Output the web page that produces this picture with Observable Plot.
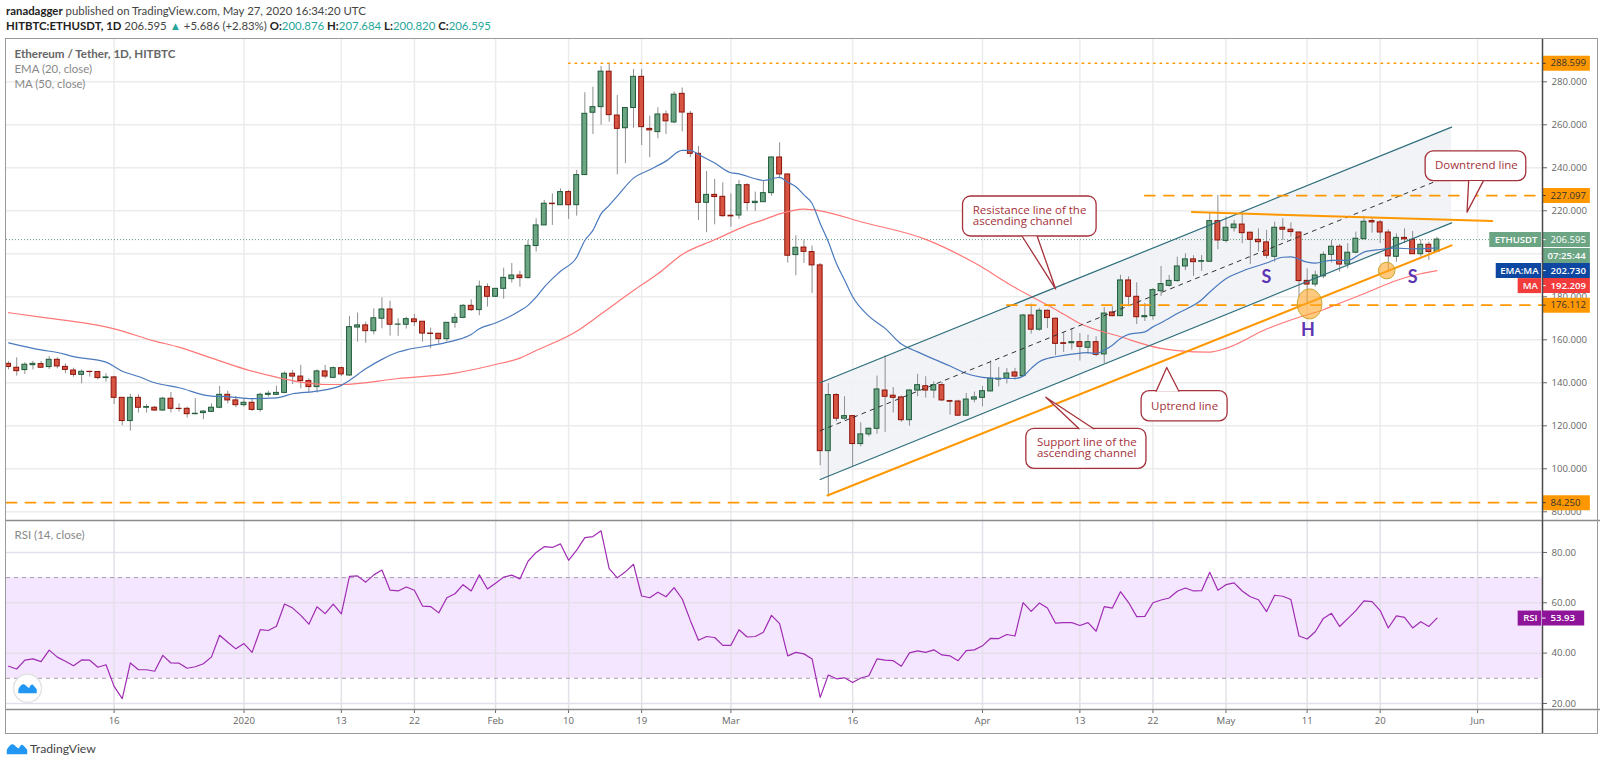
<!DOCTYPE html>
<html>
<head>
<meta charset="utf-8">
<script src="https://cdn.jsdelivr.net/npm/d3@7"></script>
<script src="https://cdn.jsdelivr.net/npm/@observablehq/plot@0.6"></script>
<style>
html,body{margin:0;padding:0;background:#fff;overflow:hidden}
body{font-family:"Lato",sans-serif;width:1600px;height:763px;position:relative}
#head{height:39px;box-sizing:border-box;padding:3px 0 0 6px;font-size:11.4px;line-height:15px;color:#444;white-space:nowrap}
#head b{color:#222;font-weight:700}
#head i{font-style:normal;color:#26a69a}
#plots svg{display:block}
#frame{position:absolute;left:5px;top:38px;width:1591px;height:694px;border:1.5px solid #9a9a9a;pointer-events:none}
#foot{height:30px;box-sizing:border-box;padding:8px 0 0 30px;font-size:12.2px;color:#444;position:relative}
#foot svg{position:absolute;left:5px;top:7px}
</style>
</head>
<body>
<div id="head">
<div><b>ranadagger</b> published on TradingView.com, May 27, 2020 16:34:20 UTC</div>
<div><b>HITBTC:ETHUSDT, 1D</b> 206.595 <i>&#9650;</i> +5.686 (+2.83%) <b>O:</b><i>200.876</i> <b>H:</b><i>207.684</i> <b>L:</b><i>200.820</i> <b>C:</b><i>206.595</i></div>
</div>
<div id="plots"></div>
<div id="frame"></div>
<div id="foot"><svg width="24" height="16" viewBox="-1.2 -1 2.4 1.8"><path fill="#2196f3" d="M-1.15.6L-1.15.1Q-.7-.75-.3-.45Q0-.1.2-.05Q.5-.75.8-.3L1.15.1L1.15.6Z"/></svg>TradingView</div>
<script>
// Daily candles from 3 Dec 2019 (bar 0) to 27 May 2020 (bar 176)
const open = [148.8,147,145.9,148.2,148.7,147.3,150.7,147.4,145.7,143.7,
145.1,145,142.2,142.5,133,122.2,133,128.4,128.4,127.1,
132.6,127.9,127.9,125.4,125.9,126.5,128.4,134.4,131.8,129.6,
130.7,127.4,134.4,134.4,135.3,144.2,142.9,140.8,138,145.3,
142.3,146.8,143.4,165.7,166.7,164,169.8,174.1,167,167,
169.5,168.4,162.9,162.8,160.3,167.9,170.2,175.8,173.8,184.5,
180,183.7,188.2,189.9,188.7,203.6,213.2,223.3,222.6,228.7,
222.6,236.6,265.6,268.2,284.7,264.3,258.4,267.8,282.3,258.1,
256.6,264.8,261.1,274.4,265.1,246.5,223.7,227.4,226.5,217.7,
217.8,231.9,223.6,224,228.2,244.8,236.9,199.4,202.9,200.8,
194.6,108.2,134.3,123.3,124.5,111.5,116,118.6,136.4,134,
133.2,122.6,136.4,138.4,136.4,138.9,131.5,131.3,124.7,132.2,
133,136,141.5,141.9,144.8,143.1,171.3,164.7,173.5,169.8,
158.4,158.4,158.9,156.3,158.9,153.2,172.7,171,187.6,180,
170.5,171,182.6,185.1,187.3,194.1,197.4,196.3,196.3,215.2,
206,211.9,213.6,209.8,206.5,205.3,198.6,212.1,211.2,209.9,
187.4,185.7,189.5,199.5,203.3,195,200.5,206.8,215.2,214.6,
209.9,198.6,207.4,206.5,199.8,204.2,200.876];
const high = [149.8,151.6,149.3,149.9,149.9,152.2,151.6,148.8,146.8,146,
145.3,145.3,144.2,143,133,134.6,134.4,129.8,129,133.3,
135.5,130.2,128.7,132.6,127.1,130.2,138.3,136.1,133.6,132.6,
132.6,135.2,136.1,138.4,145,145.7,148.1,141.9,146,148.1,
147.3,147.3,170.9,172.4,168.2,174.4,179.5,178,169.8,170.5,
171.8,168.4,165.4,162.8,167.9,172.1,176.4,178.6,187.3,186,
183.7,193.3,195.5,191.9,206.2,216.3,224.8,227.9,230.2,229.5,
238.8,274.9,277.5,287.1,288.6,273.6,267.8,285.7,285.7,264,
267.9,266.4,275.3,277.1,266.2,249.9,238.3,234.6,233,227.9,
234.1,232.6,228.7,234.1,245,251.6,236.9,208.4,206.4,203.6,
195.5,139.7,135,133.5,124.5,121.4,119.1,143.1,152.6,137.8,
133.8,136.9,143.9,142.8,140.5,140.2,131.9,131.9,135,135.7,
138.4,150.1,147.1,146.7,146.7,171.8,176.6,174.6,173.8,170.1,
163.3,165,162.9,162.2,161.4,175,175.3,190,189.3,186.5,
176.9,183.9,194.1,189.9,198.4,200,199.1,199.2,218.9,227.1,
217.1,215.5,218.9,210.1,211.6,210.9,214.7,216.3,214.4,210.1,
193,191.9,200.8,206.2,204.3,204.7,210.1,217.4,216.3,215.5,
211.2,209.3,211.6,210.4,206.5,205.4,207.684];
const low = [146,143.1,143.9,146,146.8,146.2,146.5,144.2,142.6,139.5,
142.6,141.4,140.3,129.9,120,117.5,125.9,125.9,126.7,126.7,
126,126.4,123.6,125.1,122.8,126.2,127.9,130.2,128.4,128.7,
126.7,126.4,133.3,134.1,134.9,139.2,137.2,135.2,135.2,141.9,
141.9,142.9,142.9,158.9,158.4,162.3,165.1,161.7,161.6,165,
166.2,158.9,155.8,158.1,159.2,165.4,169.8,173.2,171.2,175.2,
179.8,178.9,186.4,184.5,188.2,200.8,213.2,213.2,222.6,216,
217.5,236.6,255.5,259.8,261.2,236.7,241.9,258.4,250.4,244.7,
253.5,255.5,260.5,256.7,244.7,215.5,209.8,213.5,217,212.4,
216,219.8,219.7,226.8,226.8,234.9,195.7,189.8,195.5,181.6,
101.4,87,121.9,122.6,100.9,110.2,114.9,116.1,116.9,126,
121.6,119.8,133.5,132.9,132.7,131.2,125,124.5,124.5,130.7,
128.8,135.7,138.1,139.4,141.2,142.8,162.6,164,165.3,152.6,
154.1,155.2,150.1,153.3,152.1,149,170.7,170.7,176.1,167.1,
168.5,169.1,180.2,184.5,186.8,192.2,189.5,191.8,196,201.9,
205,210.1,204.7,195,200.8,197.7,196.1,206.2,207.8,180,
176.7,184.5,188.4,195.8,191.5,193,200,206.5,209.6,204.7,
191.5,196.1,204.7,199.7,198.4,196.9,200.82];
const close = [147.4,145.4,148.4,148.8,147,150.7,147.6,146,143.7,145.1,
145,142.2,142.5,133,122.2,133,128.4,128.7,127.1,132.6,
127.9,127.8,125.4,125.6,126.6,128.4,134.4,131.8,129.6,130.7,
127.4,134.4,134.9,135.3,144.2,142.9,140.8,138,145.3,142.9,
146.8,143.9,165.9,166.7,164,170,174.1,167,167.1,169.6,
168.2,162.9,162.7,160.3,167.9,170.2,175.8,173.8,184.7,180,
183.7,188.8,189.9,188.7,203.7,213.2,223.3,223.1,228.7,222.6,
236.6,265.1,268.2,284.7,264.5,258.1,267.8,282.3,258.9,257.4,
264.8,261.6,274,265.7,246.5,223.7,227.4,226.4,217.5,217.4,
231.9,223.6,224.2,228.2,244.8,236.9,199.1,202.8,200.9,194.6,
108.2,134.3,123.3,124.5,111.5,116,118.6,136.9,133.5,133,
122.6,136.4,138.9,136.4,138.9,131.8,131.2,124.7,132.2,133.2,
136.1,141.9,141.9,144.3,142.9,171.3,164.7,173.5,170.1,158.1,
158.1,158.9,156.7,158.9,153,172.2,171,187.6,180,170.5,
171,183.1,185.9,187.4,194.1,197.4,196.1,196.6,215.2,206.2,
212.1,213.6,209.6,206.5,205.4,199.1,212.1,211.2,210.1,187.3,
185.7,189.9,199.5,203.3,195,200.5,207,214.9,214.6,209.9,
198.8,207.4,206.7,199.8,204.2,200.8,206.595];
const rsi = [34.8,33.7,37.2,37.7,36.6,41.2,38.4,36.8,35,37.3,
37.2,34.4,35.4,26.8,21.9,36.1,33.4,33.4,32.8,39.1,
36.1,36,34,34.6,35.8,38.5,47.1,44.3,41.7,43.8,
40.3,49.3,49,50.7,59.5,57.9,55,51.5,58.4,55.7,
59.5,55.6,70.5,70.7,68.2,71.1,73,65,64.7,66.3,
65,58.7,58.5,56,62,63.6,67.2,64.7,71.1,65.5,
67.8,70.2,71,69.5,76.5,80,82.3,82,83.4,76.9,
80.9,85.9,86.3,88.6,73.6,69.9,72.3,75.3,62.7,62,
64.2,62.4,66,61.5,53,45.1,46.6,46.2,43.1,43.1,
49.3,46.4,46.6,48.3,55,51.7,38.9,40.3,39.7,37.7,
22.4,31.3,29.8,30.2,28.3,30.1,31,37.7,37.2,37,
34.8,40.1,40.9,40.3,41.3,39.3,38.9,37,41,41.3,
42.9,45.9,45.8,47.4,46.8,60.1,56.6,59.9,57.9,51.9,
52.1,52.1,51,52.1,48.7,58.5,57.9,64.4,60.1,54.5,
54.6,60,61.1,61.9,64.6,65.9,64.7,64.8,72.1,65,
67.2,67.9,64.7,62.4,61.2,56.5,63,62.6,61.3,46.8,
45.6,48.5,53.8,55.8,50.6,53.7,56.9,60.8,60.5,56.9,
50,54.8,54.2,50,52.5,50.6,53.93];
const emaBars = [0,4,6,8,12,14,16,18,21,25,27,30,33,35,38,41,42,44,46,48,49,53,55,57,58,60,63,64,65,66,68,70,71,72,73,74,75,77,79,81,83,84,85,87,89,90,92,93,95,96,97,98,99,100,101,102,103,104,106,108,110,112,114,116,118,120,122,124,125,126,127,128,129,131,133,134,135,136,137,138,140,141,142,144,147,148,150,152,155,157,158,160,161,163,165,167,169,171,173,176];
const emaVals = [158.6,155.3,154.1,152.2,149.6,145.4,142.9,140,137.7,133.8,133.6,132.6,133,134.9,136.1,138.8,141.1,146.5,150.9,154.3,155.3,158,159.7,162.5,165.1,167.8,173.5,176,179.8,184.5,191.9,198.4,206.2,210.9,218.6,222.5,226.8,235.2,239.1,243.1,248.1,248.1,246.2,242.2,237.7,237.2,234.9,234.1,235.5,233.3,231.2,227.4,223.4,214.1,205.6,195.5,187.8,180,171,165.3,158,154.4,151,147.8,144.3,142.5,142,142,143.1,146.7,149.8,151.3,152.1,153.3,154,153.6,155.2,157.5,160.6,162.5,163.7,166,167.9,172.2,178.6,182.2,188.4,191.9,195.7,198.4,198.6,196.1,195.7,196.9,196.9,200.8,202,202.6,202.3,202.73];
const maBars = [0,4,10,13,18,21,25,29,33,36,39,41,48,55,60,63,65,70,73,77,80,83,87,91,93,95,98,100,105,113,119,124,129,132,137,142,144,148,150,155,159,162,164,167,171,174,176];
const maVals = [172.6,170.5,167.4,165.1,159.4,156.6,151.5,146.5,142.6,140.3,139.2,139.2,142,144.5,148.5,151.5,155,164,172,182.9,190.7,199.7,206.5,213.2,215.8,218.6,220.8,220,214.9,206.7,195.8,184.3,174.1,167.6,161.4,156,155,154.3,156,165,170.5,174,177,181.4,187.6,190.7,192.209];

const priceTicks = [80,100,120,140,160,180,200,220,240,260,280];
const rsiTicks = [20,40,60,80];
const timeTickDates = ["2019-12-16","2020-01-01","2020-01-13","2020-01-22","2020-02-01","2020-02-10","2020-02-19","2020-03-01","2020-03-16","2020-04-01","2020-04-13","2020-04-22","2020-05-01","2020-05-11","2020-05-20","2020-06-01"];
const timeTickLabels = ["16","2020","13","22","Feb","10","19","Mar","16","Apr","13","22","May","11","20","Jun"];

// Horizontal level lines: starting bar, price
const levelBars = [69,140,123,-0.26];
const levelVals = [288.599,227.097,176.112,84.25];

// Ascending channel ends, trend lines (bar, price)
const channelBars = [100,177.8];
const channelTop = [140,258.9];
const channelMid = [117.7,236.7];
const channelBot = [95,214.4];
const upBars = [100.9,177.8];
const upVals = [87.6,203.9];
const downBars = [145.8,182.8];
const downVals = [219.4,215.2];

// Callouts
const callouts = [
 {lines:["Resistance line of the","ascending channel"],anchor:"start",tx:118.8,ty:[220.1,215.3],b0:117.6,b1:134.06,p0:208.05,p1:226.65,tail:[[124.9,208.05],[129,183.7],[126.75,208.05]]},
 {lines:["Support line of the","ascending channel"],anchor:"start",tx:126.7,ty:[112.1,107],b0:125.4,b1:140.2,p0:100,p1:118.6,tail:[[131.9,118.6],[127.8,133.3],[133.7,118.6]]},
 {lines:["Uptrend line"],anchor:"middle",tx:144.9,ty:[129.1],b0:139.6,b1:150.2,p0:122.1,p1:136.1,tail:[[141.4,136.1],[142.7,147.1],[144.2,136.1]]},
 {lines:["Downtrend line"],anchor:"middle",tx:180.85,ty:[241.1],b0:174.6,b1:187,p0:233.8,p1:247.6,tail:[[179.9,233.8],[179.7,219.4],[181.7,233.8]]}
];
const letters = [{t:"S",b:155,p:189.1},{t:"H",b:160.1,p:164.3},{t:"S",b:173,p:189.1}];

// Axis tags
const tagLevels = [288.599,227.097,206.595,176.112,84.25];
const tagFills = ["#ff9800","#ff9800","#6ba583","#ff9800","#ff9800"];
const tagInk = ["#333","#333","#fff","#333","#333"];
const sideTags = [
 {name:"ETHUSDT",left:182.5,val:"206.595",level:206.595,fill:"#6ba583"},
 {name:"EMA:MA",left:183.3,val:"202.730",level:192.2,fill:"#0d47a1"},
 {name:"MA",left:186,val:"192.209",level:185.2,fill:"#f23b3b"}
];

const DAY = 864e5, T0 = Date.UTC(2019,11,3);
const at = i => new Date(T0 + i*DAY);
const AXIS = 189, TAGEND = 194.9, START = -0.26;
const xDomain = [at(START), at(AXIS)];
const bars = close.map((c,i)=>({i,o:open[i],h:high[i],l:low[i],c,up:c>=open[i]}));
const font = '"Lato",sans-serif';
const axisFont = '"Open Sans",sans-serif';
const gridColor = "#ececec";
const labelMap = new Map(timeTickDates.map((d,i)=>[+new Date(d+"T00:00Z"),timeTickLabels[i]]));
const timeTicks = timeTickDates.map(d=>new Date(d+"T00:00Z"));

const ellipse = ratio => ({draw(ctx,size){
  const ry=Math.sqrt(size/Math.PI), rx=ry*ratio, k=0.5523;
  ctx.moveTo(-rx,0);
  ctx.bezierCurveTo(-rx,-ry*k,-rx*k,-ry,0,-ry);
  ctx.bezierCurveTo(rx*k,-ry,rx,-ry*k,rx,0);
  ctx.bezierCurveTo(rx,ry*k,rx*k,ry,0,ry);
  ctx.bezierCurveTo(-rx*k,ry,-rx,ry*k,-rx,0);
  ctx.closePath();
}});
const cloud = {draw(ctx,size){
  const s=Math.sqrt(size/Math.PI);
  ctx.moveTo(-1.15*s,.6*s);ctx.lineTo(-1.15*s,.1*s);
  ctx.quadraticCurveTo(-.7*s,-.75*s,-.3*s,-.45*s);
  ctx.quadraticCurveTo(0,-.1*s,.2*s,-.05*s);
  ctx.quadraticCurveTo(.5*s,-.75*s,.8*s,-.3*s);
  ctx.lineTo(1.15*s,.1*s);ctx.lineTo(1.15*s,.6*s);ctx.closePath();
}};

const red = "#a5313a";
const lineOf = (b,v,k="k") => b.map((x,i)=>({i:x,p:v[i],k}));
const channelArea = channelBars.map((b,i)=>({i:b,top:channelTop[i],bot:channelBot[i]}));
const tagFont = {fontFamily:axisFont,fontSize:9.6};

const price = Plot.plot({
  width:1600,height:481,marginTop:0,marginBottom:0,marginLeft:6,marginRight:58,
  style:{fontFamily:font,background:"transparent",overflow:"visible"},
  x:{type:"utc",domain:xDomain,axis:null},
  y:{domain:[75.95,299.67],axis:null},
  marks:[
    Plot.gridX(timeTicks,{stroke:gridColor,strokeOpacity:1,strokeWidth:1.5}),
    Plot.gridY(priceTicks,{stroke:gridColor,strokeOpacity:1,strokeWidth:1.5}),
    Plot.areaY(channelArea,{x:d=>at(d.i),y1:"bot",y2:"top",fill:"#eff2f5",fillOpacity:.9}),
    Plot.ruleY([206.595],{stroke:"#5d9a7b",strokeDasharray:"1 2",strokeWidth:1}),
    Plot.ruleX(bars,{x:d=>at(d.i),y1:"l",y2:"h",stroke:"#8f8f91",strokeWidth:1}),
    Plot.rect(bars,{x1:d=>at(d.i-.3),x2:d=>at(d.i+.3),y1:"o",y2:"c",
      fill:d=>d.up?"#6ba583":"#d75442",stroke:d=>d.up?"#1f5a39":"#8c1208",strokeWidth:1}),
    Plot.line(lineOf(maBars,maVals),{x:d=>at(d.i),y:"p",stroke:"#f77",strokeWidth:1.2,curve:"monotone-x"}),
    Plot.line(lineOf(emaBars,emaVals),{x:d=>at(d.i),y:"p",stroke:"#4a79bd",strokeWidth:1.2,curve:"monotone-x"}),
    Plot.line(lineOf(channelBars,channelTop),{x:d=>at(d.i),y:"p",stroke:"#2f6f7c",strokeWidth:1.2}),
    Plot.line(lineOf(channelBars,channelBot),{x:d=>at(d.i),y:"p",stroke:"#2f6f7c",strokeWidth:1.2}),
    Plot.line(lineOf(channelBars,channelMid),{x:d=>at(d.i),y:"p",stroke:"#333",strokeWidth:1,strokeDasharray:"4 5"}),
    Plot.line(lineOf([levelBars[0],AXIS],[levelVals[0],levelVals[0]]),{x:d=>at(d.i),y:"p",stroke:"#ff9800",strokeWidth:1.5,strokeDasharray:"1.5 5"}),
    Plot.line(lineOf([levelBars[1],AXIS],[levelVals[1],levelVals[1]]),{x:d=>at(d.i),y:"p",stroke:"#ff9800",strokeWidth:1.8,strokeDasharray:"10 9"}),
    Plot.line(lineOf([levelBars[2],AXIS],[levelVals[2],levelVals[2]]),{x:d=>at(d.i),y:"p",stroke:"#ff9800",strokeWidth:1.8,strokeDasharray:"10 9"}),
    Plot.line(lineOf([levelBars[3],AXIS],[levelVals[3],levelVals[3]]),{x:d=>at(d.i),y:"p",stroke:"#ff9800",strokeWidth:1.8,strokeDasharray:"10 9"}),
    Plot.line(lineOf(upBars,upVals),{x:d=>at(d.i),y:"p",stroke:"#ff9800",strokeWidth:2}),
    Plot.line(lineOf(downBars,downVals),{x:d=>at(d.i),y:"p",stroke:"#ff9800",strokeWidth:2}),
    Plot.dot([{i:160.3,p:176.7}],{x:d=>at(d.i),y:"p",r:15,symbol:ellipse(.82),fill:"#ffa726",fillOpacity:.6,stroke:"#c8a52c",strokeWidth:1}),
    Plot.dot([{i:169.8,p:192.2}],{x:d=>at(d.i),y:"p",r:8.3,fill:"#ffa726",fillOpacity:.6,stroke:"#c8a52c",strokeWidth:1}),
    Plot.text(letters,{x:d=>at(d.b),y:"p",text:"t",fontSize:18,fontWeight:700,fill:"#5e35b1"}),
    // callouts
    Plot.rect(callouts,{x1:d=>at(d.b0),x2:d=>at(d.b1),y1:"p0",y2:"p1",rx:8,fill:"#fff",stroke:red,strokeWidth:1.3}),
    ...callouts.map(c=>Plot.line(c.tail,{x:d=>at(d[0]),y:d=>d[1],fill:"#fff",stroke:red,strokeWidth:1.3})),
    ...callouts.flatMap(c=>c.lines.map((t,j)=>Plot.text([t],{x:()=>at(c.tx),y:()=>c.ty[j],text:d=>d,textAnchor:c.anchor,fontFamily:axisFont,fontSize:11.5,fill:red}))),
    // legend
    Plot.text(["Ethereum / Tether, 1D, HITBTC"],{text:d=>d,frameAnchor:"top-left",dx:8,dy:15,lineAnchor:"middle",fontSize:11.6,fontWeight:700,fill:"#666"}),
    Plot.text(["EMA (20, close)"],{text:d=>d,frameAnchor:"top-left",dx:8,dy:30,lineAnchor:"middle",fontSize:11.4,fill:"#888"}),
    Plot.text(["MA (50, close)"],{text:d=>d,frameAnchor:"top-left",dx:8,dy:45,lineAnchor:"middle",fontSize:11.4,fill:"#888"}),
    // axis
    Plot.axisY(priceTicks,{anchor:"right",label:null,tickSize:4,tickPadding:5,...tagFont,stroke:"#666",fill:"#666",tickFormat:d3.format(".3f")}),
    // tags
    Plot.ruleY(sideTags,{y:"level",x1:d=>at(d.left),x2:()=>at(AXIS-.1),stroke:"fill",strokeWidth:15}),
    Plot.text(sideTags,{x:d=>at((d.left+AXIS)/2),y:"level",text:"name",fill:"#fff",...tagFont,fontWeight:600}),
    Plot.ruleY(tagLevels,{y:d=>d,x1:()=>at(AXIS),x2:()=>at(TAGEND),stroke:(d,i)=>tagFills[i],strokeWidth:15}),
    Plot.ruleY(tagLevels,{y:d=>d,x1:()=>at(AXIS),x2:()=>at(AXIS+.45),stroke:(d,i)=>tagInk[i],strokeWidth:1}),
    Plot.text(tagLevels,{x:()=>at(AXIS),y:d=>d,dx:8,textAnchor:"start",text:d=>d3.format(".3f")(d),fill:(d,i)=>tagInk[i],...tagFont}),
    Plot.ruleY([199.2],{x1:()=>at(AXIS),x2:()=>at(TAGEND),stroke:"#6ba583",strokeWidth:15}),
    Plot.text(["07:25:44"],{x:()=>at(AXIS),y:()=>199.2,dx:5,textAnchor:"start",text:d=>d,fill:"#fff",...tagFont,fontWeight:600}),
    Plot.ruleY(sideTags.slice(1),{y:"level",x1:()=>at(AXIS),x2:()=>at(TAGEND),stroke:"fill",strokeWidth:15}),
    Plot.ruleY(sideTags.slice(1),{y:"level",x1:()=>at(AXIS),x2:()=>at(AXIS+.45),stroke:"#fff",strokeWidth:1}),
    Plot.text(sideTags.slice(1),{x:()=>at(AXIS),y:"level",dx:8,textAnchor:"start",text:"val",fill:"#fff",...tagFont,fontWeight:600}),
    Plot.ruleX([at(AXIS)],{stroke:"#4a4a4a",strokeWidth:1.5})
  ]
});

const rsiRows = rsi.map((r,i)=>({i,r}));
const osc = Plot.plot({
  width:1600,height:213,marginTop:0,marginBottom:24,marginLeft:6,marginRight:58,
  style:{fontFamily:font,background:"transparent",overflow:"visible"},
  x:{type:"utc",domain:xDomain,axis:null},
  y:{domain:[17.6,92.7],axis:null},
  marks:[
    Plot.rectY([0],{x1:()=>at(START),x2:()=>at(AXIS),y1:()=>30,y2:()=>70,fill:"#f4e6fe"}),
    Plot.gridX(timeTicks,{stroke:"#e4e0e8",strokeOpacity:1,strokeWidth:1.5}),
    Plot.gridY(rsiTicks,{stroke:"#e4dfea",strokeOpacity:1,strokeWidth:1.5}),
    Plot.ruleY([30,70],{stroke:"#a79ab0",strokeWidth:1,strokeDasharray:"4 4"}),
    Plot.line(rsiRows,{x:d=>at(d.i),y:"r",stroke:"#a02cb4",strokeWidth:1.2}),
    Plot.dot([0],{x:()=>at(2.33),y:()=>26,r:14,fill:"#fff",stroke:"#e3e3e3"}),
    Plot.dot([0],{x:()=>at(2.33),y:()=>26,r:8,symbol:cloud,fill:"#2196f3"}),
    Plot.text(["RSI (14, close)"],{text:d=>d,frameAnchor:"top-left",dx:8,dy:15,lineAnchor:"middle",fontSize:11.5,fill:"#888"}),
    Plot.axisY(rsiTicks,{anchor:"right",label:null,tickSize:4,tickPadding:5,...tagFont,stroke:"#666",fill:"#666",tickFormat:d3.format(".2f")}),
    Plot.axisX(timeTicks,{anchor:"bottom",label:null,tickSize:4,tickPadding:4,...tagFont,stroke:"#666",fill:"#666",tickFormat:d=>labelMap.get(+d)}),
    Plot.ruleY([17.6],{x1:()=>at(START),x2:()=>at(196.7),stroke:"#8c8c8c",strokeWidth:1.5}),
    Plot.ruleY([92.7],{x1:()=>at(START),x2:()=>at(196.7),stroke:"#8c8c8c",strokeWidth:1.5}),
    Plot.ruleX([at(AXIS)],{y1:()=>92.7,y2:()=>8.07,stroke:"#4a4a4a",strokeWidth:1.5}),
    Plot.ruleY([53.93],{x1:()=>at(186),x2:()=>at(AXIS-.1),stroke:"#8e1599",strokeWidth:15}),
    Plot.ruleY([53.93],{x1:()=>at(AXIS),x2:()=>at(194.2),stroke:"#8e1599",strokeWidth:15}),
    Plot.ruleY([53.93],{x1:()=>at(AXIS),x2:()=>at(AXIS+.45),stroke:"#fff",strokeWidth:1}),
    Plot.text(["RSI"],{x:()=>at(187.5),y:()=>53.93,text:d=>d,fill:"#fff",...tagFont,fontWeight:600}),
    Plot.text(["53.93"],{x:()=>at(AXIS),y:()=>53.93,dx:8,textAnchor:"start",text:d=>d,fill:"#fff",...tagFont,fontWeight:600})
  ]
});
document.getElementById("plots").append(price, osc);
</script>
</body>
</html>
